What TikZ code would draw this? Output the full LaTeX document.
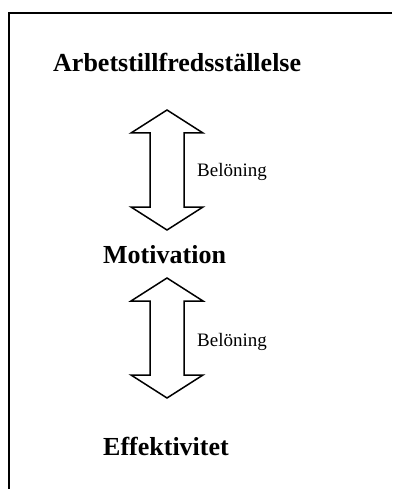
\documentclass[tikz,border=0pt]{standalone}
\usepackage{fontspec}
\setmainfont{Liberation Serif}
\begin{document}
\begin{tikzpicture}[x=1pt,y=-1pt,
  title/.style={anchor=base west,inner sep=0pt,font=\fontsize{26}{30}\selectfont\bfseries},
  lbl/.style={anchor=base west,inner sep=0pt,font=\fontsize{19}{22}\selectfont},
  dblarrow/.style={draw=black,line width=1.5pt,line join=miter,fill=white}]
\useasboundingbox (0,0) rectangle (392,489);
% frame (top and left only)
\draw[line width=2pt] (392,13) -- (9,13) -- (9,489);
% texts
\node[title] (arb) at (53,72) {Arbetstillfredsställelse};
\node[title] (mot) at (103,263) {Motivation};
\node[title] (eff) at (103,455) {Effektivitet};
\node[lbl] (bel1) at (197,176) {Belöning};
\node[lbl] (bel2) at (197,346) {Belöning};
% double arrows
\draw[dblarrow] (167,110) -- (203,133) -- (184,133) -- (184,207) -- (203,207) -- (167,230)
  -- (131,207) -- (150,207) -- (150,133) -- (131,133) -- cycle;
\draw[dblarrow] (167,278) -- (203,301) -- (184,301) -- (184,375) -- (203,375) -- (167,398)
  -- (131,375) -- (150,375) -- (150,301) -- (131,301) -- cycle;
\end{tikzpicture}
\end{document}
